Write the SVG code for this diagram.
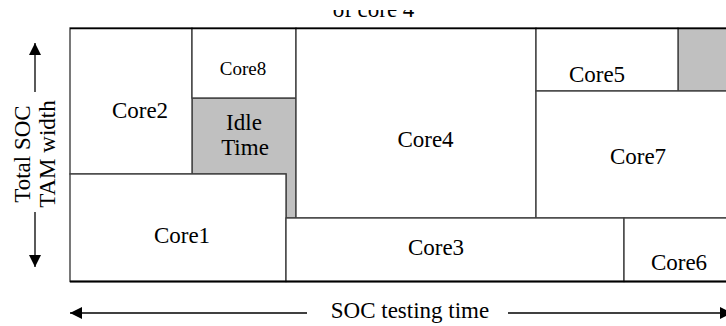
<svg xmlns="http://www.w3.org/2000/svg" width="726" height="326" viewBox="0 0 726 326">
<defs>
<style>
.box{fill:#fff;stroke:#404040;stroke-width:1.4}
.idle{fill:#c0c0c0;stroke:#404040;stroke-width:1.4}
.lbl{font-family:"Liberation Serif","Times New Roman",serif;font-size:23px;fill:#000;text-anchor:middle}
.sm{font-size:19px}
.ax{stroke:#000;stroke-width:1.3;fill:none}
</style>
<marker id="ah" viewBox="0 0 10 10" refX="10" refY="5" markerWidth="12" markerHeight="12" markerUnits="userSpaceOnUse" orient="auto">
<path d="M0,0 L10,5 L0,10 z" fill="#000"/>
</marker>
<clipPath id="topclip"><rect x="0" y="10" width="726" height="20"/></clipPath>
</defs>
<rect width="726" height="326" fill="#fff"/>
<text class="lbl" x="373.5" y="17" clip-path="url(#topclip)">of core 4</text>
<g id="idle-time">
<path class="idle" d="M192,98 H296 V218 H286 V174 H192 Z"/>
<text class="lbl" x="244" y="130">Idle</text>
<text class="lbl" x="245" y="155">Time</text>
</g>
<g id="idle-core5">
<rect class="idle" x="678" y="28" width="50" height="63"/>
</g>
<g id="core2">
<rect class="box" x="70" y="28" width="122" height="146"/>
<text class="lbl" x="140" y="118">Core2</text>
</g>
<g id="core8">
<rect class="box" x="192" y="28" width="104" height="70"/>
<text class="lbl sm" x="243" y="75">Core8</text>
</g>
<g id="core4">
<rect class="box" x="296" y="28" width="240" height="190"/>
<text class="lbl" x="425.5" y="147">Core4</text>
</g>
<g id="core5">
<rect class="box" x="536" y="28" width="142" height="63"/>
<text class="lbl" x="597" y="82">Core5</text>
</g>
<g id="core7">
<rect class="box" x="536" y="91" width="192" height="127"/>
<text class="lbl" x="638" y="164">Core7</text>
</g>
<g id="core1">
<rect class="box" x="70" y="174" width="216" height="107.5"/>
<text class="lbl" x="182" y="243">Core1</text>
</g>
<g id="core3">
<rect class="box" x="286" y="218" width="338" height="63.5"/>
<text class="lbl" x="436" y="255">Core3</text>
</g>
<g id="core6">
<rect class="box" x="624" y="218" width="104" height="63.5"/>
<text class="lbl" x="679" y="270">Core6</text>
</g>
<line x1="70" y1="28.5" x2="726" y2="28.5" stroke="#000" stroke-width="1.5"/>
<line x1="70" y1="281.5" x2="726" y2="281.5" stroke="#000" stroke-width="2"/>
<g id="axis-labels">
<text class="lbl" transform="translate(30,154) rotate(-90)">Total SOC</text>
<text class="lbl" transform="translate(55,154) rotate(-90)">TAM width</text>
<text class="lbl" x="410" y="318">SOC testing time</text>
</g>
<g id="connectors">
<line class="ax" x1="35" y1="92" x2="35" y2="43" marker-end="url(#ah)"/>
<line class="ax" x1="35" y1="212" x2="35" y2="267" marker-end="url(#ah)"/>
<line class="ax" x1="307" y1="313" x2="70" y2="313" marker-end="url(#ah)"/>
<line class="ax" x1="508" y1="313" x2="732" y2="313" marker-end="url(#ah)"/>
</g>
</svg>
